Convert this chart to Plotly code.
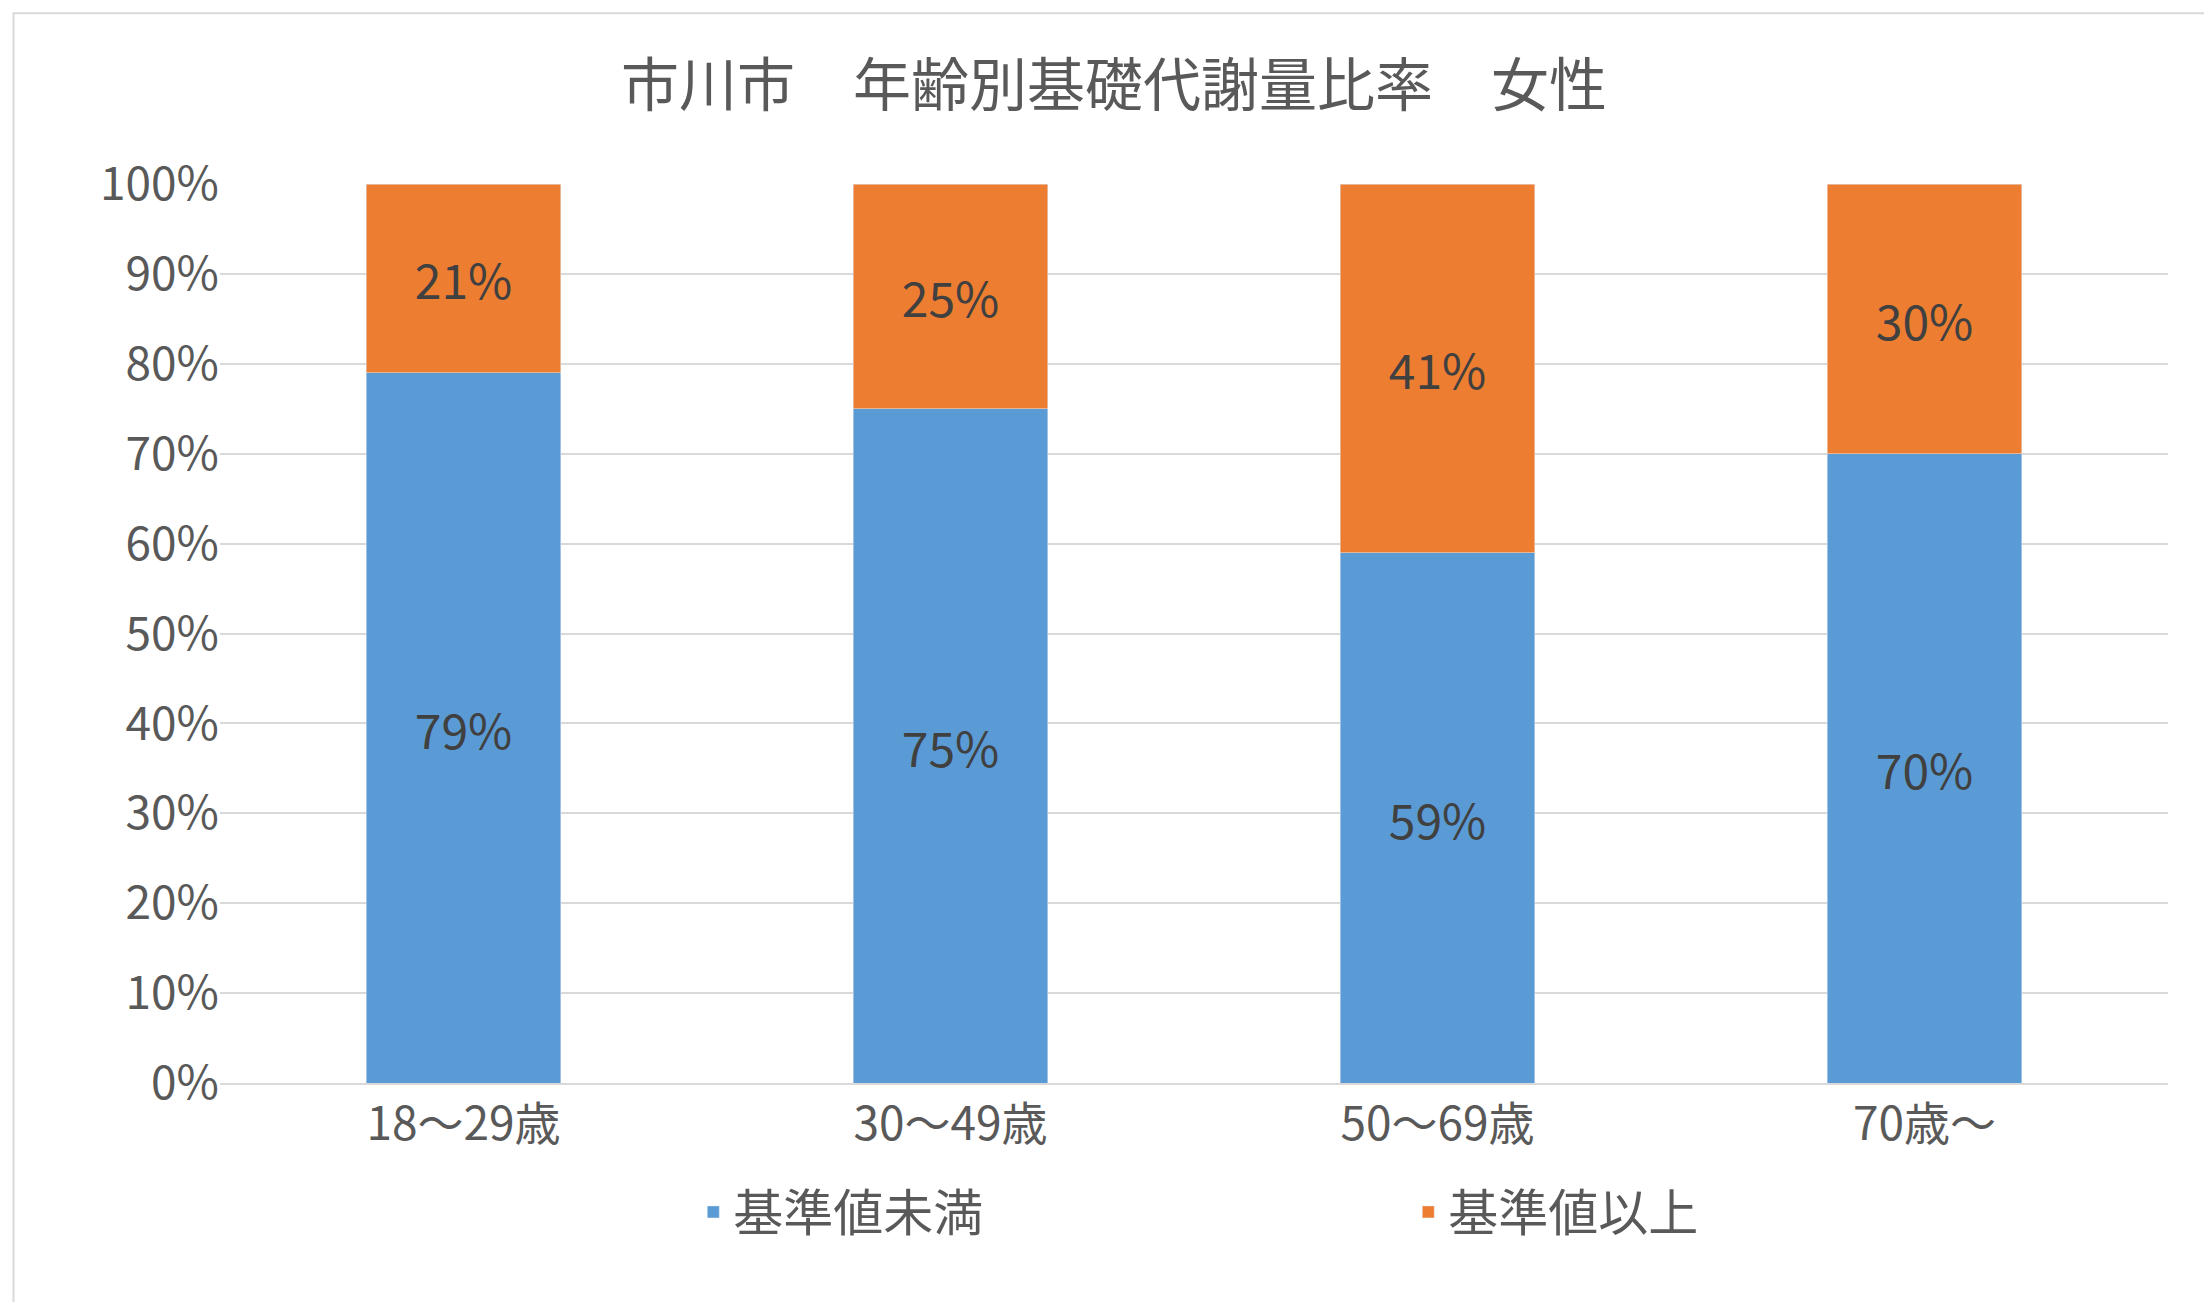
import plotly.graph_objects as go

categories = ['18～29歳', '30～49歳', '50～69歳', '70歳～']
below = [79, 75, 59, 70]
above = [21, 25, 41, 30]
tick_vals = list(range(0, 101, 10))
tick_text = [f'{v}%' for v in tick_vals]

font = 'Noto Sans CJK JP'
grey = '#595959'

fig = go.Figure()
fig.add_trace(go.Bar(
    x=categories, y=below, name='基準値未満',
    marker_color='#5B9BD5',
    text=[f'{v}%' for v in below], textposition='inside', insidetextanchor='middle',
    textfont=dict(size=48, color='#404040', family=font),
))
fig.add_trace(go.Bar(
    x=categories, y=above, name='基準値以上',
    marker_color='#ED7D31',
    text=[f'{v}%' for v in above], textposition='inside', insidetextanchor='middle',
    textfont=dict(size=48, color='#404040', family=font),
))

fig.update_layout(
    barmode='stack',
    bargap=0.6,
    width=2212, height=1302,
    paper_bgcolor='white', plot_bgcolor='white',
    font=dict(family=font, color=grey, size=46),
    title=dict(text='市川市　年齢別基礎代謝量比率　女性', x=0.5, xanchor='center',
               y=0.94, yanchor='middle', font=dict(size=58, color=grey)),
    margin=dict(l=212, r=52, t=176, b=227),
    yaxis=dict(range=[0, 100], tickvals=tick_vals, ticktext=tick_text,
               gridcolor='#D9D9D9', gridwidth=2, zeroline=False,
               tickfont=dict(size=46), ticks='', ticklen=0),
    xaxis=dict(showline=True, linecolor='#D9D9D9', linewidth=2,
               tickfont=dict(size=46), ticks=''),
    legend=dict(orientation='h', x=0.61, xanchor='center', y=-0.1, yanchor='top',
                font=dict(size=50), entrywidth=670, traceorder='normal'),
    uniformtext=dict(mode='show', minsize=10),
    shapes=[dict(type='rect', xref='paper', yref='paper', x0=-0.106, x1=1.024,
                 y0=-0.245, y1=1.19, line=dict(color='#D9D9D9', width=2))],
)

fig.write_html('out.html')
